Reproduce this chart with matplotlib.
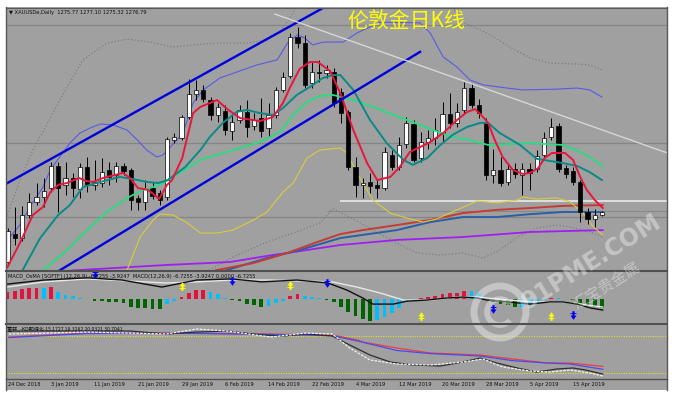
import numpy as np
import matplotlib.pyplot as plt
from matplotlib.path import Path
from matplotlib.patches import Circle, Arc

# --- OHLC (XAUUSDe daily, 24 Dec 2018 -> 19 Apr 2019) ---
opens = [1258.0, 1268.5, 1267.0, 1275.7, 1280.6, 1282.4, 1285.8, 1294.1, 1287.0, 1289.6,
         1285.4, 1293.7, 1287.0, 1287.7, 1292.6, 1290.7, 1294.1, 1292.6, 1282.1, 1280.6,
         1285.8, 1283.9, 1282.4, 1303.9, 1304.6, 1312.5, 1321.2, 1322.7, 1318.9, 1313.3,
         1314.8, 1307.3, 1311.4, 1314.4, 1309.1, 1312.1, 1308.4, 1313.3, 1322.7, 1327.9,
         1342.6, 1340.3, 1325.3, 1329.4, 1329.1, 1329.4, 1321.9, 1314.4, 1293.7, 1287.0,
         1288.1, 1287.0, 1285.8, 1298.2, 1293.7, 1302.4, 1309.9, 1297.1, 1303.1, 1304.6,
         1306.5, 1313.6, 1310.3, 1315.2, 1323.4, 1317.0, 1310.3, 1290.7, 1292.6, 1288.1,
         1293.0, 1290.7, 1293.0, 1293.0, 1298.2, 1305.0, 1309.1, 1293.3, 1292.2, 1288.1,
         1276.8, 1274.2, 1275.77]
highs = [1270.8, 1278.7, 1279.1, 1283.9, 1287.7, 1289.6, 1295.6, 1295.6, 1295.6, 1291.5,
         1295.2, 1297.5, 1296.4, 1297.1, 1295.6, 1295.6, 1295.2, 1293.3, 1283.2, 1288.8,
         1288.1, 1285.1, 1305.0, 1306.5, 1313.3, 1326.8, 1326.4, 1324.6, 1320.0, 1317.8,
         1317.0, 1313.3, 1317.0, 1318.9, 1314.0, 1319.7, 1317.8, 1323.8, 1329.4, 1344.1,
         1346.4, 1343.4, 1333.2, 1334.0, 1332.1, 1331.0, 1323.4, 1315.2, 1297.5, 1289.6,
         1291.5, 1288.8, 1301.2, 1300.1, 1305.0, 1312.5, 1311.4, 1306.9, 1307.6, 1312.1,
         1318.2, 1321.5, 1317.8, 1325.7, 1325.3, 1319.3, 1312.1, 1300.4, 1297.5, 1295.2,
         1295.2, 1295.2, 1295.2, 1300.1, 1306.9, 1312.1, 1310.3, 1294.5, 1293.7, 1288.8,
         1278.3, 1277.9, 1277.10]
lows = [1256.5, 1264.4, 1265.9, 1274.5, 1279.4, 1278.7, 1284.3, 1276.8, 1283.2, 1282.4,
        1282.1, 1284.3, 1285.1, 1286.2, 1287.0, 1288.1, 1290.7, 1277.6, 1277.6, 1277.6,
        1281.7, 1279.4, 1281.3, 1302.7, 1303.9, 1311.8, 1318.9, 1318.2, 1311.4, 1310.6,
        1305.8, 1303.9, 1310.3, 1305.0, 1307.6, 1305.0, 1305.0, 1312.1, 1321.9, 1327.2,
        1338.5, 1323.4, 1323.4, 1325.7, 1327.2, 1316.3, 1310.3, 1292.6, 1282.4, 1282.1,
        1283.9, 1282.1, 1285.1, 1292.6, 1292.6, 1300.9, 1295.6, 1295.6, 1300.4, 1302.0,
        1303.1, 1308.4, 1308.8, 1314.0, 1315.9, 1312.1, 1288.8, 1287.7, 1286.6, 1287.0,
        1289.6, 1283.2, 1285.1, 1291.8, 1297.1, 1303.9, 1291.8, 1289.6, 1287.0, 1273.0,
        1272.3, 1271.2, 1275.32]
closes = [1269.7, 1267.0, 1275.7, 1280.6, 1282.4, 1284.7, 1294.1, 1285.8, 1289.6, 1285.8,
          1293.7, 1287.0, 1288.1, 1291.8, 1290.0, 1294.1, 1292.2, 1281.3, 1280.6, 1285.8,
          1282.8, 1281.3, 1304.2, 1305.0, 1312.5, 1321.2, 1322.7, 1319.3, 1313.3, 1316.3,
          1307.6, 1310.6, 1315.2, 1308.8, 1311.4, 1307.3, 1313.3, 1322.7, 1327.6, 1342.6,
          1340.3, 1324.6, 1329.4, 1329.1, 1330.2, 1317.8, 1314.0, 1293.7, 1287.0, 1287.7,
          1286.6, 1285.8, 1299.4, 1293.7, 1302.0, 1310.3, 1296.4, 1303.1, 1304.6, 1307.6,
          1313.6, 1310.3, 1314.4, 1323.4, 1317.0, 1314.0, 1290.7, 1292.6, 1287.7, 1293.0,
          1291.1, 1293.0, 1291.5, 1297.9, 1304.6, 1308.8, 1293.0, 1291.1, 1288.1, 1276.8,
          1274.2, 1275.7, 1276.79]

# --- indicator lines (bar index, value) ---
ma_fast_x = [0, 1.7, 3.5, 4.9, 5.9, 7.0, 8.2, 9.9, 10.8, 11.8, 13.2, 14.8, 15.9, 16.9, 18.0, 19.4, 20.1,
             20.9, 22.0, 22.7, 24.1, 25.6, 26.6, 28.9, 30.3, 32.1, 34.8, 36.6, 38.0, 39.0, 40.3, 41.7,
             42.8, 44.5, 45.9, 47.7, 49.6, 51.0, 52.8, 54.1, 55.5, 56.9, 58.3, 60.1, 62.0, 63.4, 64.5,
             65.6, 66.3, 67.2, 68.3, 69.7, 71.1, 72.1, 73.2, 74.1, 75.1, 76.9, 78.0, 79.0, 79.9, 81.0, 82.1]
ma_fast_y = [1256.1, 1265.1, 1275.7, 1278.7, 1284.3, 1287.0, 1287.7, 1289.6, 1288.5, 1288.1, 1289.6,
             1290.7, 1291.5, 1289.6, 1285.8, 1285.1, 1283.6, 1281.7, 1287.0, 1288.8, 1297.1, 1314.0,
             1316.3, 1318.9, 1315.5, 1312.1, 1311.0, 1312.5, 1317.8, 1323.8, 1330.6, 1333.2, 1333.2,
             1329.8, 1321.5, 1307.6, 1295.2, 1288.8, 1290.0, 1293.7, 1299.4, 1301.2, 1303.1, 1306.5,
             1311.4, 1314.4, 1315.5, 1312.5, 1310.3, 1303.9, 1297.5, 1292.6, 1291.1, 1291.5, 1293.3,
             1297.1, 1299.0, 1299.0, 1296.4, 1290.0, 1285.1, 1281.3, 1278.3]

ma_mid_x = [2.1, 4.5, 7.0, 8.6, 10.4, 12.8, 15.5, 17.3, 19.2, 20.8, 22.1, 24.5, 26.6, 27.9, 29.7, 31.6,
            33.0, 34.8, 36.6, 38.0, 39.9, 41.7, 43.5, 44.9, 45.9, 47.7, 50.0, 52.3, 54.6, 55.9, 57.9,
            59.7, 61.4, 63.4, 65.2, 66.3, 67.9, 70.7, 73.0, 76.6, 78.6, 80.3, 82.0]
ma_mid_y = [1255.0, 1267.0, 1275.7, 1279.4, 1286.2, 1288.1, 1290.0, 1289.2, 1288.1, 1287.7, 1288.8,
            1293.7, 1300.1, 1305.0, 1310.3, 1314.4, 1315.2, 1314.0, 1313.3, 1315.9, 1320.8, 1323.8,
            1327.2, 1328.3, 1328.3, 1322.7, 1311.4, 1302.7, 1296.4, 1294.5, 1297.1, 1302.0, 1305.8,
            1308.8, 1310.3, 1310.3, 1306.5, 1302.0, 1296.8, 1295.2, 1294.1, 1291.8, 1288.8]

ma_slow_x = [4.9, 8.2, 11.0, 13.7, 16.5, 18.7, 21.0, 22.1, 26.6, 31.1, 34.8, 37.6, 39.4, 41.3, 43.1,
             44.9, 47.7, 50.4, 53.2, 55.9, 58.7, 61.4, 63.8, 66.3, 72.1, 76.6, 79.4, 82.1]
ma_slow_y = [1255.0, 1262.5, 1270.0, 1276.8, 1282.1, 1285.1, 1287.0, 1288.8, 1296.4, 1300.1, 1303.1,
             1306.9, 1313.3, 1318.2, 1320.4, 1320.8, 1318.9, 1316.3, 1313.3, 1310.6, 1307.6, 1305.0,
             1303.9, 1302.0, 1302.7, 1302.0, 1299.0, 1294.1]

band_up_x = [0, 1.7, 3.1, 4.9, 5.9, 7.2, 8.6, 10.0, 11.4, 12.8, 14.6, 16.5, 17.9, 19.2, 20.6, 21.4, 22.1,
             24.2, 25.6, 27.0, 29.3, 31.6, 34.4, 37.2, 38.6, 40.0, 41.0, 42.1, 43.5, 46.3, 48.2, 51.4,
             56.9, 58.3, 60.1, 62.0, 63.8, 65.6, 68.9, 71.1, 75.8, 78.6, 80.3, 82.0]
band_up_y = [1266.3, 1271.9, 1278.7, 1286.2, 1292.6, 1297.5, 1302.7, 1306.5, 1308.4, 1309.9, 1309.5,
             1307.6, 1303.9, 1300.1, 1297.5, 1298.2, 1300.1, 1306.5, 1317.8, 1322.7, 1327.2, 1329.4,
             1332.1, 1334.0, 1340.3, 1343.4, 1342.2, 1339.6, 1340.7, 1340.7, 1344.1, 1348.2, 1347.9,
             1344.1, 1335.1, 1331.3, 1326.4, 1324.6, 1323.4, 1322.7, 1323.0, 1323.4, 1322.7, 1320.0]

band_low_x = [15.5, 16.5, 18.3, 20.1, 21.0, 22.8, 24.8, 26.6, 28.9, 31.1, 33.9, 35.8, 38.0, 39.4, 41.3,
              43.1, 45.9, 46.8, 48.2, 50.4, 52.8, 55.1, 57.3, 59.2, 62.0, 64.8, 67.5, 70.3, 71.1, 73.0,
              75.8, 77.6, 79.4, 80.8, 82.1]
band_low_y = [1249.4, 1255.0, 1267.4, 1273.8, 1276.0, 1275.7, 1272.7, 1268.9, 1268.9, 1270.0, 1273.8,
              1276.8, 1284.3, 1287.7, 1297.1, 1300.1, 1300.9, 1299.0, 1291.5, 1281.3, 1276.4, 1274.5,
              1273.0, 1274.2, 1277.6, 1280.9, 1280.2, 1281.3, 1282.4, 1281.7, 1282.1, 1280.6, 1276.4,
              1271.2, 1268.2]

env_up_x = [0, 1.7, 3.5, 5.4, 7.2, 10.4, 13.7, 16.5, 19.7, 22.8, 25.6, 28.9, 33.0, 35.8, 37.6, 39.4,
            41.0, 59.7, 62.8, 66.1, 69.3, 72.1, 74.8, 78.6, 80.3, 82.1]
env_up_y = [1275.7, 1288.8, 1300.1, 1309.5, 1318.9, 1334.0, 1340.3, 1341.8, 1340.7, 1338.8, 1339.6,
            1340.3, 1340.3, 1341.5, 1344.5, 1351.6, 1360.3, 1360.3, 1348.2, 1344.1, 1338.8, 1334.7,
            1332.8, 1332.4, 1332.1, 1330.2]
env_low_x = [26.6, 31.1, 35.8, 39.4, 43.1, 44.9, 47.2, 50.4, 53.7, 56.5, 59.7, 62.8, 65.6, 67.9, 70.3,
             73.0, 75.8, 77.6, 80.3, 82.1]
env_low_y = [1253.1, 1259.9, 1265.5, 1268.9, 1272.7, 1278.0, 1274.9, 1270.0, 1265.1, 1261.4, 1260.6,
             1261.4, 1259.5, 1262.5, 1267.4, 1270.8, 1271.9, 1271.2, 1269.3, 1267.4]

ma60_x = [25.2, 28.9, 33.9, 38.6, 42.7, 45.9, 49.0, 53.7, 58.3, 62.8, 67.5, 72.1, 76.6, 82.1]
ma60_y = [1252.0, 1255.0, 1257.6, 1261.4, 1265.5, 1268.5, 1270.0, 1271.9, 1273.8, 1276.4, 1277.6,
          1278.3, 1279.1, 1279.4]
ma120_x = [26.6, 30.3, 35.8, 40.3, 45.9, 49.0, 53.7, 58.3, 62.8, 67.5, 72.1, 76.6, 82.1]
ma120_y = [1251.2, 1255.0, 1259.5, 1262.5, 1267.0, 1268.2, 1270.0, 1273.0, 1274.9, 1274.9, 1276.0,
           1276.8, 1276.8]
ma200_x = [4.5, 10.0, 22.0, 30.7, 35.8, 40.3, 45.9, 53.7, 62.8, 72.1, 82.1]
ma200_y = [1253.9, 1255.0, 1256.9, 1258.0, 1260.3, 1262.1, 1264.4, 1266.3, 1267.4, 1269.3, 1270.0]

# hand-drawn objects on the chart
chan_up = ([-1, 45.5], [1286.2, 1356.5])
chan_low = ([5.9, 56.9], [1252.7, 1337.0])
trend_down = ([36.9, 91.0], [1351.2, 1299.0])
hlevels = [1347.1, 1302.7, 1274.9]
level_short = 1277.2
white_level = 1280.9

# --- MACD / OsMA panel ---
osma = [2.1, 2.3, 2.8, 3.0, 3.05, 2.95, 3.2, 2.1, 1.2, 1.0,
        0.45, 0.1, -0.36, -0.45, -0.63, -0.8, -1.1, -2.0, -2.4, -2.45,
        -2.6, -2.65, -1.35, -0.45, 0.54, 1.6, 2.5, 2.6, 2.1, 1.45,
        0.45, -0.2, -0.45, -1.35, -1.5, -2.0, -1.9, -1.1, -0.36, 0.9,
        1.45, 0.9, 0.7, 0.45, -0.1, -0.8, -2.0, -3.5, -4.6, -5.4,
        -5.8, -5.6, -4.9, -3.8, -2.4, -0.8, -0.35, 0.25, 0.7, 1.0,
        1.45, 1.6, 1.8, 2.3, 2.25, 1.6, 0.3, -0.6, -1.3, -1.5,
        -2.2, -2.0, -1.5, -1.0, -0.3, 0.45, 0.3, 0.1, -0.2, -0.9,
        -1.9, -2.2, -2.3]
macd_x = [0, 5.0, 11.0, 15.8, 21.3, 26.1, 30.8, 35.1, 39.9, 44.2, 46.8, 49.0, 50.4, 53.2, 55.1, 57.9,
          60.6, 62.8, 64.8, 66.1, 68.9, 72.1, 74.8, 76.6, 78.6, 80.3, 82.1]
macd_y = [4.1, 5.2, 5.8, 5.2, 3.3, 5.2, 5.5, 4.7, 5.2, 4.4, 2.5, 0.35, -1.3, -1.3, -0.5, -0.2,
          0.35, 0.6, 0.35, -0.2, -0.7, -1.3, -0.7, -0.7, -1.3, -2.3, -2.9]
signal_x = [0, 5.0, 11.0, 17.0, 21.9, 26.1, 30.8, 36.3, 41.2, 44.8, 48.2, 51.4, 54.6, 58.3, 62.0,
            64.8, 67.5, 72.1, 76.6, 82.1]
signal_y = [3.3, 4.7, 5.5, 4.9, 4.4, 4.7, 5.2, 5.2, 4.9, 4.7, 3.3, 1.7, -0.2, -0.2, 0.6, 0.6, 0.1,
            -0.7, -0.7, -2.1]
arrow_dn_x = [12, 31, 44, 67, 78]
arrow_dn_y = [6.8, 4.9, 4.4, -2.6, -4.2]
arrow_up_x = [24, 39, 57, 75]
arrow_up_y = [3.6, 3.9, -4.5, -4.5]

# --- KD panel ---
kd_red_x = [0.2, 11.0, 23.1, 35.1, 44.8, 48.3, 49.0, 53.7, 58.3, 65.2, 69.7, 74.4, 77.6, 82.1]
kd_red_y = [78.3, 84.8, 84.8, 83.2, 81.6, 73.5, 70.2, 60.5, 52.4, 49.2, 42.7, 36.2, 36.2, 30.7]
kd_blue_x = [0.2, 11.0, 23.1, 35.1, 44.8, 48.3, 53.7, 58.3, 65.2, 69.7, 74.4, 77.6, 82.1]
kd_blue_y = [77.5, 84.0, 84.5, 82.8, 80.5, 71.8, 56.5, 51.5, 47.5, 40.0, 36.2, 34.6, 26.0]
kd_k_x = [0.2, 7.9, 17.0, 21.9, 26.1, 30.3, 35.1, 38.1, 41.2, 44.8, 47.2, 50.0, 52.8, 55.9, 59.7,
          62.8, 65.2, 67.5, 70.3, 73.0, 75.8, 78.0, 79.7, 82.1]
kd_k_y = [88.0, 88.0, 88.0, 83.2, 86.4, 88.0, 81.6, 80.0, 83.2, 80.0, 65.4, 49.2, 37.8, 33.0, 31.3,
          37.8, 44.3, 36.2, 28.1, 21.6, 26.5, 28.1, 24.9, 18.3]
kd_d_x = [0.2, 11.0, 21.9, 26.1, 30.3, 36.3, 41.2, 44.8, 47.2, 50.0, 53.7, 58.3, 62.8, 65.6, 68.3,
          72.1, 74.8, 77.6, 80.3, 82.1]
kd_d_y = [83.2, 86.4, 83.2, 91.3, 88.0, 78.3, 84.8, 83.2, 60.5, 41.1, 34.6, 33.0, 37.8, 42.7, 29.7,
          23.2, 21.6, 24.9, 20.0, 15.2]
kd_levels = [80, 20]

date_idx = [0, 6, 12, 18, 24, 30, 36, 42, 48, 54, 60, 66, 72, 78]
date_labels = ['24 Dec 2018', '3 Jan 2019', '11 Jan 2019', '21 Jan 2019', '29 Jan 2019',
               '6 Feb 2019', '14 Feb 2019', '22 Feb 2019', '4 Mar 2019', '12 Mar 2019',
               '20 Mar 2019', '28 Mar 2019', '5 Apr 2019', '15 Apr 2019']

W, H = 676, 393
GRAY = '#a0a0a0'
CJK = ['Noto Sans CJK SC', 'DejaVu Sans']

fig = plt.figure(figsize=(W / 100, H / 100), dpi=100, facecolor='white')


def pix_axes(x0, y0, x1, y1):
    return fig.add_axes([x0 / W, 1 - y1 / H, (x1 - x0) / W, (y1 - y0) / H])


def bar_x(px):
    # pixel column -> bar index (7.25 px per bar, bar 0 at x=7.5)
    return (px - 7.5) / 7.25


bg = pix_axes(6, 7, 667, 390)
bg.set_facecolor(GRAY)
bg.set_xticks([]); bg.set_yticks([])
for s in bg.spines.values():
    s.set_visible(False)

ax = pix_axes(6, 8, 667, 270)
macd = pix_axes(6, 272, 667, 323)
kd = pix_axes(6, 325, 667, 378)
for a in (ax, macd, kd):
    a.set_facecolor('none')
    a.set_xlim(bar_x(6), bar_x(667))
    a.axis('off')
ax.set_ylim(1255.0, 1353.5)
macd.set_ylim(-6.4, 7.37)
kd.set_ylim(11.9, 97.8)

idx = np.arange(len(closes))
o, h, l, c = map(np.array, (opens, highs, lows, closes))

# main panel
for lv in hlevels:
    ax.axhline(lv, color='#858585', lw=0.9, zorder=1)
ax.hlines(level_short, 44, 91, color='#8a8a8a', lw=0.8, zorder=1)
ax.hlines(white_level, 45.9, 91, color='#e4e4e4', lw=1.3, zorder=1)

ax.plot(env_up_x, env_up_y, color='#777777', lw=0.8, ls=(0, (1, 2)), zorder=2)
ax.plot(env_low_x, env_low_y, color='#777777', lw=0.8, ls=(0, (1, 2)), zorder=2)
ax.plot(ma200_x, ma200_y, color='#a21ef0', lw=1.3, zorder=2)
ax.plot(ma120_x, ma120_y, color='#2a5fa8', lw=1.4, zorder=2)
ax.plot(ma60_x, ma60_y, color='#c43c34', lw=1.4, zorder=2)
ax.plot(band_low_x, band_low_y, color='#d8cc3c', lw=0.8, zorder=2)
ax.plot(band_up_x, band_up_y, color='#5a5ae6', lw=0.8, zorder=2)

ax.vlines(idx, l, h, color='black', lw=0.7, zorder=3)
body_lo = np.minimum(o, c)
body_h = np.maximum(np.abs(c - o), 0.3)
ax.bar(idx, body_h, bottom=body_lo, width=0.62,
       color=np.where(c >= o, 'white', 'black'), edgecolor='black', lw=0.5, zorder=3)

ax.plot(ma_slow_x, ma_slow_y, color='#22e07f', lw=1.3, zorder=4)
ax.plot(ma_mid_x, ma_mid_y, color='#0a8a86', lw=1.4, zorder=4)
ax.plot(ma_fast_x, ma_fast_y, color='#e8163c', lw=1.4, zorder=4)

ax.plot(*chan_up, color='#0000dc', lw=1.7, zorder=5)
ax.plot(*chan_low, color='#0000dc', lw=1.7, zorder=5)
ax.plot(*trend_down, color='#d6d6d6', lw=1.0, zorder=5)

# MACD / OsMA
osma_arr = np.array(osma)
prev = np.concatenate([[osma_arr[0] - 1], osma_arr[:-1]])
cols = []
for v, p in zip(osma_arr, prev):
    if v >= 0:
        cols.append('#e0143c' if v >= p else '#00bfff')
    else:
        cols.append('#006400' if v <= p else '#00bfff')
macd.bar(idx, osma_arr, width=0.55, color=cols, lw=0, zorder=2)
macd.plot(signal_x, signal_y, color='#e8e8e8', lw=1.0, zorder=3)
macd.plot(macd_x, macd_y, color='#111111', lw=1.0, zorder=3)

down_arrow = Path([(-0.25, 1), (0.25, 1), (0.25, 0), (0.7, 0), (0, -1), (-0.7, 0), (-0.25, 0), (-0.25, 1),
                   (-0.7, 0.55), (0.7, 0.55), (0.7, 0.35), (-0.7, 0.35), (-0.7, 0.55)],
                  [1, 2, 2, 2, 2, 2, 2, 79, 1, 2, 2, 2, 79])
up_arrow = Path(down_arrow.vertices * [1, -1], down_arrow.codes)
macd.scatter(arrow_dn_x, arrow_dn_y, marker=down_arrow, s=38, color='#0000ff', lw=0, zorder=4)
macd.scatter(arrow_up_x, arrow_up_y, marker=up_arrow, s=38, color='#ffff00', lw=0, zorder=4)

# KD
for lv in kd_levels:
    kd.axhline(lv, color='#eeee00', lw=0.7, ls=(0, (1, 1.5)), zorder=1)
kd.plot(kd_red_x, kd_red_y, color='#f03c3c', lw=0.9, zorder=2)
kd.plot(kd_blue_x, kd_blue_y, color='#4a4af0', lw=0.9, zorder=2)
kd.plot(kd_k_x, kd_k_y, color='#2e2e2e', lw=0.9, zorder=3)
kd.plot(kd_d_x, kd_d_y, color='#f2f2f2', lw=0.9, ls=(0, (2, 1)), zorder=3)

# overlay in pixel coordinates: frame, texts, watermark
ov = pix_axes(0, 0, W, H)
ov.set_xlim(0, W); ov.set_ylim(H, 0)
ov.axis('off')
ov.set_zorder(10)
ov.patch.set_alpha(0)

frame = '#585858'
ov.plot([6, 667], [7.5, 7.5], color=frame, lw=0.8)
ov.plot([6, 6], [7, 390], color=frame, lw=1.0)
ov.plot([667, 667], [7, 390], color=frame, lw=1.0)
for yy in (271, 324):
    ov.plot([6, 667], [yy, yy], color='#505050', lw=1.5)
ov.plot([6, 667], [378.5, 378.5], color='#505050', lw=1.0)

small = dict(fontsize=3.7, color='#111111', va='center', ha='left')
ov.text(9, 12.5, '▼ XAUUSDe,Daily  1275.77 1277.10 1275.32 1276.79', **small)
ov.text(8, 276, 'MACD_OsMA [SOFTF] (12,26,9) -6.7255 -3.9247  MACD(12,26,9) -6.7255 -3.9247 0.0000 -6.7255',
        **small)
ov.text(7, 330, '重轩_-KD期待化 15.1727 18.3282 20.0321 30.7041', family=CJK, **small)
for i, lab in zip(date_idx, date_labels):
    ov.text(7.5 + 7.25 * i, 384.5, lab, **small)

ov.text(406, 22, '伦敦金日K线', family=CJK, fontsize=15, color='#ffff00', ha='center', va='center')

wm = dict(color='white', alpha=0.38)
ov.add_patch(Circle((500, 312), 26, fill=False, lw=5, **wm))
ov.add_patch(Arc((500, 312), 26, 26, theta1=40, theta2=320, lw=4, **wm))
ov.text(592, 262, '91PME.COM', fontsize=17, fontweight='bold', rotation=32,
        ha='center', va='center', **wm)
ov.text(607, 286, '汇宝贵金属', family=CJK, fontsize=11, rotation=32,
        ha='center', va='center', **wm)

fig.savefig('out.png', dpi=100, facecolor='white')
